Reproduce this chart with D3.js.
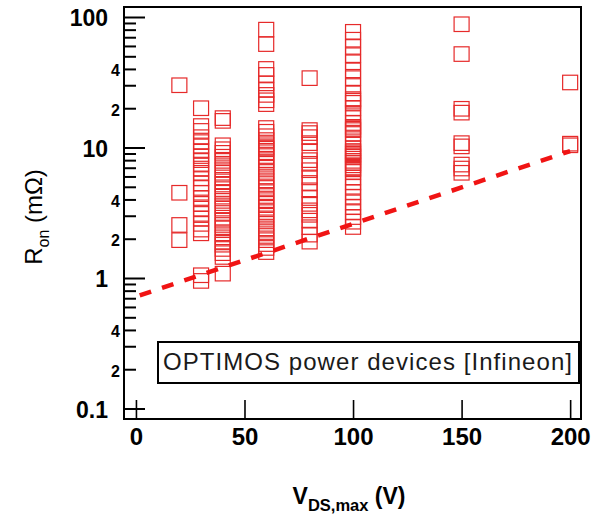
<!DOCTYPE html>
<html>
<head>
<meta charset="utf-8">
<script src="https://cdn.jsdelivr.net/npm/d3@7"></script>
<style>
  html, body { margin: 0; padding: 0; background: #fff; }
  svg { display: block; font-family: "Liberation Sans", Arial, sans-serif; }
</style>
</head>
<body>
<svg id="chart" width="606" height="516"></svg>
<script>
// Rated blocking voltage of each device family (V)
const voltages = [20, 30, 40, 60, 80, 100, 150, 200];

// On-resistance of the individual parts in each voltage class (mΩ)
const ron20 = [30, 4.5, 2.55, 1.95];
const ron30 = [20, 14.6, 13.4, 12.0, 11.0, 10.2, 9.4, 8.6, 8.0, 7.4, 6.9, 6.4, 5.8, 5.3,
  4.9, 4.5, 4.1, 3.7, 3.4, 3.1, 2.85, 2.6, 2.35, 2.2, 1.05, 0.95];
const ron40 = [16.8, 16, 10.4, 9.7, 9.1, 8.5, 7.9, 7.3, 6.8, 6.4, 5.9, 5.5, 5.2, 4.8, 4.5,
  4.2, 3.9, 3.6, 3.4, 3.15, 2.9, 2.75, 2.55, 2.4, 2.2, 2.05, 1.9, 1.8, 1.67, 1.55, 1.45, 1.08];
const ron60 = [80, 62, 40, 36, 31, 27.6, 25.3, 23, 21.5, 14.1, 13.2, 12.2, 11.4, 10.6, 10.0,
  9.8, 9.2, 8.6, 8.0, 7.5, 7.0, 6.5, 6.0, 5.6, 5.25, 4.9, 4.55, 4.25, 3.95, 3.7, 3.45, 3.2,
  3.0, 2.8, 2.6, 2.4, 2.25, 2.1, 1.95, 1.82, 1.7, 1.58];
const ron80 = [34, 13.6, 12.9, 12.0, 10.8, 9.4, 8.0, 7.5, 6.7, 5.9, 5.35, 4.7, 4.1, 3.7,
  3.3, 3.05, 2.75, 2.45, 2.15, 1.9];
const ron100 = [77, 67, 59, 51, 45, 39, 34, 29.6, 26, 23.5, 22.8, 22, 20, 18.4, 16.8, 15.4,
  14.4, 13.9, 13.6, 12.7, 11.6, 10.6, 9.9, 9.4, 9.2, 8.9, 8.7, 8.5, 7.9, 7.6, 7.3, 7.0, 6.8,
  6.5, 5.9, 5.4, 5.0, 4.55, 4.2, 3.8, 3.5, 3.2, 2.93, 2.7, 2.46];
const ron150 = [88, 52, 19.8, 18.5, 10.8, 10.2, 7.4, 6.9, 6.4];
const ron200 = [31.5, 10.7, 10.4];
const ronByVoltage = [ron20, ron30, ron40, ron60, ron80, ron100, ron150, ron200];

// Exponential trend of the lowest on-resistance (straight on the log axis)
const fitVoltage = [0, 200];
const fitRon = [0.72, 9.4];

// Axis ticks
const xTicks = [0, 50, 100, 150, 200];
const yMajorTicks = [0.1, 1, 10, 100];
const yMinorTicks = [0.2, 0.3, 0.4, 0.5, 0.6, 0.7, 0.8, 0.9, 2, 3, 4, 5, 6, 7, 8, 9,
  20, 30, 40, 50, 60, 70, 80, 90];
const yMinorLabelled = [0.2, 0.4, 2, 4, 20, 40];

const legendText = "OPTIMOS power devices [Infineon]";

const svg = d3.select("#chart");
const plotLeft = 124, plotRight = 581, plotTop = 7, plotBottom = 419;

const x = d3.scaleLinear().domain([-5.5, 205]).range([plotLeft, plotRight]);
const y = d3.scaleLog().domain([0.0831, 119.3]).range([plotBottom, plotTop]);

const red = "#e62a2a";

// Data points: one open square per device
const points = [];
voltages.forEach((v, i) => ronByVoltage[i].forEach(r => points.push({ v, r })));
const sqW = 15, sqH = 14.5;
svg.append("g")
  .selectAll("rect")
  .data(points)
  .join("rect")
  .attr("x", d => x(d.v) - sqW / 2)
  .attr("y", d => y(d.r) - sqH / 2)
  .attr("width", sqW)
  .attr("height", sqH)
  .attr("fill", "none")
  .attr("stroke", red)
  .attr("stroke-width", 1.2);

// Trend line
const fit = fitVoltage.map((v, i) => ({ v, r: fitRon[i] }));
svg.append("path")
  .datum(fit)
  .attr("d", d3.line().x(d => x(d.v)).y(d => y(d.r)))
  .attr("fill", "none")
  .attr("stroke", "#f01414")
  .attr("stroke-width", 4.5)
  .attr("stroke-dasharray", "12,11.5")
  .attr("stroke-dashoffset", -4);

// Y axis: long ticks at decades, short ticks between, all pointing inward
const yMajor = svg.append("g")
  .attr("transform", `translate(${plotLeft},0)`)
  .call(d3.axisLeft(y).tickValues(yMajorTicks).tickSizeInner(-21).tickSizeOuter(0)
    .tickPadding(16).tickFormat(d => d >= 1 ? d3.format("d")(d) : String(d)));
yMajor.select(".domain").remove();
yMajor.selectAll("line").attr("stroke", "#000").attr("stroke-width", 2);
yMajor.selectAll("text")
  .attr("dy", null)
  .attr("y", 8.5)
  .attr("font-size", 23)
  .attr("font-weight", "bold")
  .attr("fill", "#000");

const leadingDigit = d => Math.round(d / Math.pow(10, Math.floor(Math.log10(d) + 1e-9)));
const yMinor = svg.append("g")
  .attr("transform", `translate(${plotLeft},0)`)
  .call(d3.axisLeft(y).tickValues(yMinorTicks).tickSizeInner(-12).tickSizeOuter(0)
    .tickPadding(4)
    .tickFormat(d => yMinorLabelled.includes(d) ? String(leadingDigit(d)) : ""));
yMinor.select(".domain").remove();
yMinor.selectAll("line").attr("stroke", "#000").attr("stroke-width", 2);
yMinor.selectAll("text")
  .attr("dy", null)
  .attr("y", 7)
  .attr("font-size", 16)
  .attr("font-weight", "bold")
  .attr("fill", "#000");

// X axis: ticks pointing up from the bottom edge
const xAxis = svg.append("g")
  .attr("transform", `translate(0,${plotBottom})`)
  .call(d3.axisBottom(x).tickValues(xTicks).tickSizeInner(-19).tickSizeOuter(0)
    .tickFormat(d3.format("d")));
xAxis.select(".domain").remove();
xAxis.selectAll("line").attr("stroke", "#000").attr("stroke-width", 1.6);
xAxis.selectAll("text")
  .attr("dy", null)
  .attr("y", 26)
  .attr("font-size", 24)
  .attr("font-weight", "bold")
  .attr("fill", "#000");

// Plot frame
svg.append("rect")
  .attr("x", plotLeft).attr("y", plotTop)
  .attr("width", plotRight - plotLeft).attr("height", plotBottom - plotTop)
  .attr("fill", "none").attr("stroke", "#000").attr("stroke-width", 2);

// Legend box
svg.append("rect")
  .attr("x", 158).attr("y", 342).attr("width", 421).attr("height", 41)
  .attr("fill", "#fff").attr("stroke", "#000").attr("stroke-width", 2);
svg.append("text")
  .attr("x", 163).attr("y", 370)
  .attr("font-size", 24)
  .attr("fill", "#1a1a1a")
  .attr("textLength", 409)
  .attr("lengthAdjust", "spacing")
  .text(legendText);

// Axis titles
const xt = svg.append("text")
  .attr("x", 349).attr("y", 504)
  .attr("text-anchor", "middle")
  .attr("font-weight", "bold")
  .attr("font-size", 23)
  .attr("fill", "#000");
xt.append("tspan").text("V");
xt.append("tspan").attr("font-size", 16.5).attr("dy", 7).text("DS,max");
xt.append("tspan").attr("dy", -7).text(" (V)");

const yt = svg.append("text")
  .attr("transform", "translate(42,217) rotate(-90)")
  .attr("text-anchor", "middle")
  .attr("font-size", 24)
  .attr("fill", "#000");
yt.append("tspan").text("R");
yt.append("tspan").attr("font-size", 16).attr("dy", 7).text("on");
yt.append("tspan").attr("dy", -7).text(" (mΩ)");
</script>
</body>
</html>
